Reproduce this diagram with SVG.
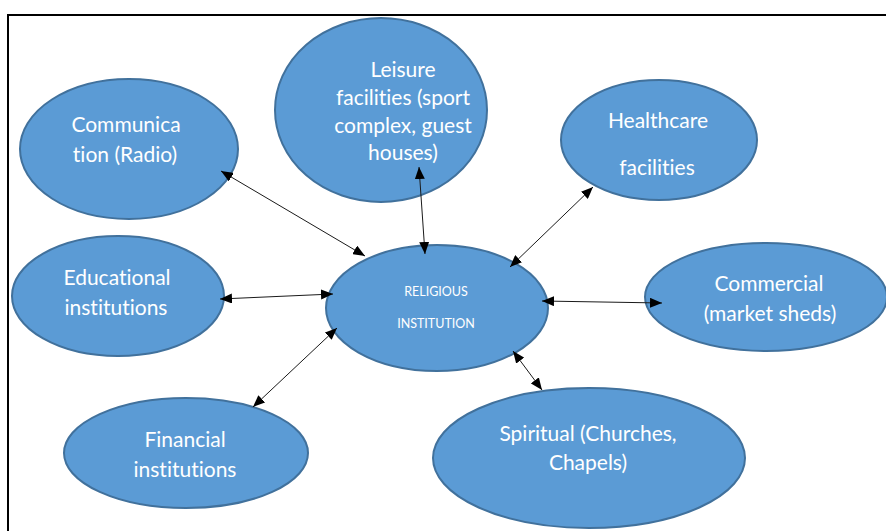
<svg xmlns="http://www.w3.org/2000/svg" width="886" height="531" viewBox="0 0 886 531">
  <style>
    .node { fill: #5B9BD5; stroke: #41719C; stroke-width: 2; }
    .label { font-family: "Lato", "Liberation Sans", sans-serif; font-size: 21px; fill: #FFFFFF; text-anchor: middle; font-variant-ligatures: none; }
    .small { font-size: 12.5px; }
    .link { stroke: #1a1a1a; stroke-width: 1; fill: none; marker-start: url(#head); marker-end: url(#head); }
  </style>
  <defs>
    <marker id="head" viewBox="0 0 12 10" refX="12" refY="5" markerWidth="12" markerHeight="10" markerUnits="userSpaceOnUse" orient="auto-start-reverse">
      <path d="M0,0 L12,5 L0,10 Z" fill="#000000"/>
    </marker>
  </defs>

  <rect x="0" y="0" width="886" height="531" fill="#FFFFFF"/>
  <!-- page frame -->
  <rect x="8" y="15" width="900" height="600" fill="none" stroke="#000000" stroke-width="2"/>

  <g id="communication">
    <ellipse class="node" cx="129" cy="149" rx="109" ry="70"/>
    <text class="label" x="126" y="132">Communica</text>
    <text class="label" x="125" y="162">tion (Radio)</text>
  </g>

  <g id="leisure">
    <ellipse class="node" cx="381" cy="110" rx="106" ry="92"/>
    <text class="label" x="403" y="77">Leisure</text>
    <text class="label" x="403" y="105">facilities (sport</text>
    <text class="label" x="403" y="133">complex, guest</text>
    <text class="label" x="403" y="160">houses)</text>
  </g>

  <g id="healthcare">
    <ellipse class="node" cx="659" cy="140" rx="98" ry="60"/>
    <text class="label" x="658" y="128">Healthcare</text>
    <text class="label" x="657" y="175">facilities</text>
  </g>

  <g id="educational">
    <ellipse class="node" cx="118" cy="296" rx="106" ry="60"/>
    <text class="label" x="117" y="285">Educational</text>
    <text class="label" x="116" y="315">institutions</text>
  </g>

  <g id="religious">
    <ellipse class="node" cx="437" cy="308" rx="111" ry="63"/>
    <text class="label small" x="436" y="296">RELIGIOUS</text>
    <text class="label small" x="436" y="328">INSTITUTION</text>
  </g>

  <g id="commercial">
    <ellipse class="node" cx="766" cy="297" rx="121" ry="54"/>
    <text class="label" x="769" y="291">Commercial</text>
    <text class="label" x="770" y="321">(market sheds)</text>
  </g>

  <g id="financial">
    <ellipse class="node" cx="186" cy="453" rx="122" ry="55"/>
    <text class="label" x="185" y="447">Financial</text>
    <text class="label" x="185" y="477">institutions</text>
  </g>

  <g id="spiritual">
    <ellipse class="node" cx="589" cy="458" rx="156" ry="70"/>
    <text class="label" x="588" y="441">Spiritual (Churches,</text>
    <text class="label" x="588" y="470">Chapels)</text>
  </g>

  <!-- double-headed links to the central institution, drawn over the ovals -->
  <g id="connectors">
    <line class="link" x1="221" y1="171" x2="365" y2="256"/>
    <line class="link" x1="419" y1="167" x2="425" y2="254"/>
    <line class="link" x1="593" y1="187" x2="510" y2="267"/>
    <line class="link" x1="542" y1="301" x2="662" y2="303"/>
    <line class="link" x1="513" y1="351" x2="542" y2="390"/>
    <line class="link" x1="220" y1="299" x2="333" y2="294"/>
    <line class="link" x1="337" y1="328" x2="253" y2="407"/>
  </g>
</svg>
